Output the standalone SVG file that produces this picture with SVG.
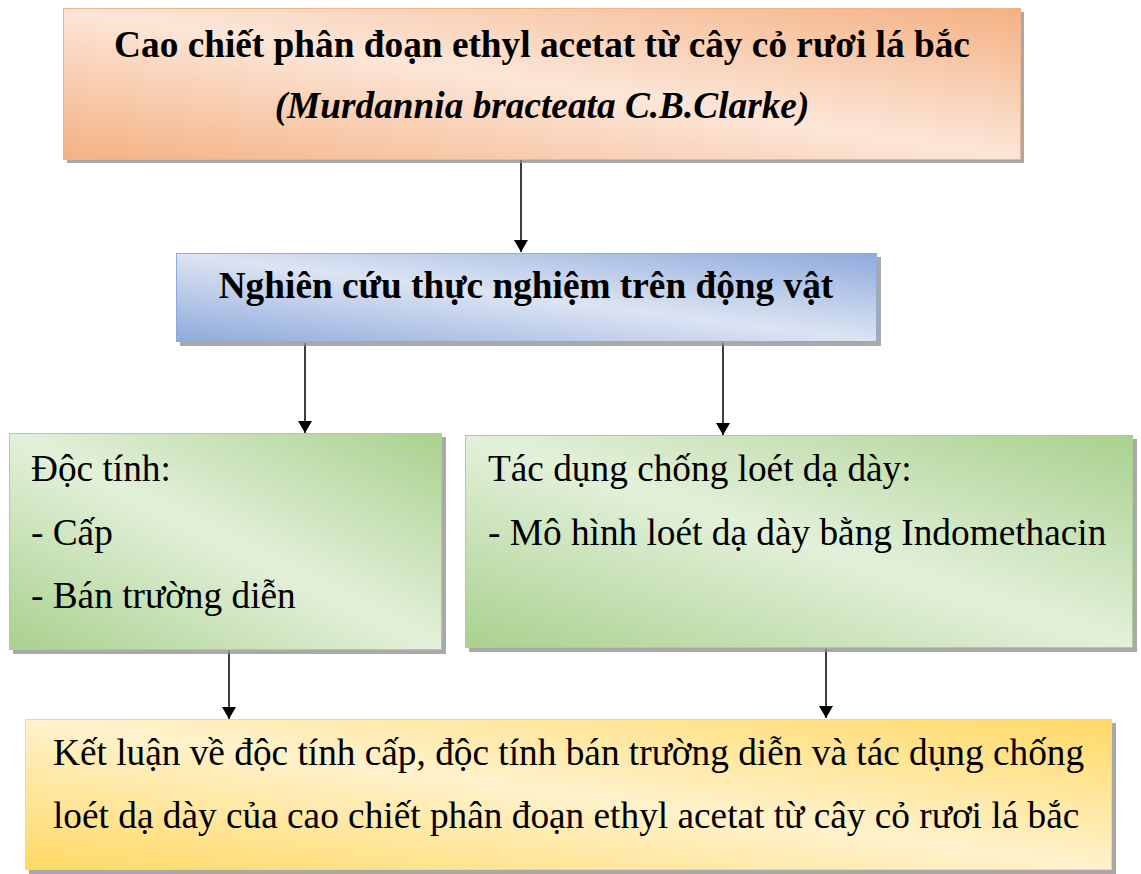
<svg xmlns="http://www.w3.org/2000/svg" width="1141" height="874" viewBox="0 0 1141 874">
<defs>
<linearGradient id="gO" x1="1" y1="0" x2="0" y2="1"><stop offset="0" stop-color="#F4B183"/><stop offset="0.5" stop-color="#FCE6D8"/><stop offset="1" stop-color="#F4B183"/></linearGradient>
<linearGradient id="gB" x1="1" y1="0" x2="0" y2="1"><stop offset="0" stop-color="#8FAADC"/><stop offset="0.5" stop-color="#DCE4F3"/><stop offset="1" stop-color="#8FAADC"/></linearGradient>
<linearGradient id="gG" x1="1" y1="0" x2="0" y2="1"><stop offset="0" stop-color="#A9D18E"/><stop offset="0.5" stop-color="#E3F0DA"/><stop offset="1" stop-color="#A9D18E"/></linearGradient>
<linearGradient id="gY" x1="1" y1="0" x2="0" y2="1"><stop offset="0" stop-color="#FFD966"/><stop offset="0.5" stop-color="#FFF2CC"/><stop offset="1" stop-color="#FFD966"/></linearGradient>
<marker id="arr" markerWidth="12" markerHeight="14" refX="12" refY="7" orient="auto" markerUnits="userSpaceOnUse"><path d="M0,0 L12,7 L0,14 Z" fill="#000"/></marker>
<style>
.sh{fill:#8c8c8c;opacity:0.75}
.t{font-family:"Liberation Serif","Times New Roman",serif;font-size:37.3px;fill:#000}
.b{font-weight:bold}
.c{stroke:#000;stroke-width:1.5;fill:none;marker-end:url(#arr)}
</style>
</defs>
<rect width="1141" height="874" fill="#fff"/>
<g id="connectors">
<line class="c" x1="521" y1="160" x2="521" y2="252"/>
<line class="c" x1="305" y1="343" x2="305" y2="433"/>
<line class="c" x1="723" y1="343" x2="723" y2="435"/>
<line class="c" x1="229" y1="651" x2="229" y2="719"/>
<line class="c" x1="826" y1="649" x2="826" y2="718"/>
</g>
<g id="n1">
<rect class="sh" x="67" y="12" width="957" height="151"/>
<rect x="63.5" y="8.5" width="957" height="151" fill="url(#gO)" stroke="#F4B183" stroke-width="1"/>
<text class="t b" x="542" y="57" text-anchor="middle">Cao chiết phân đoạn ethyl acetat từ cây cỏ rươi lá bắc</text>
<text class="t b" x="542" y="118" text-anchor="middle" font-style="italic">(Murdannia bracteata C.B.Clarke)</text>
</g>
<g id="n2">
<rect class="sh" x="180" y="257" width="701" height="89"/>
<rect x="176.5" y="253.5" width="700" height="88" fill="url(#gB)" stroke="#8FAADC" stroke-width="1"/>
<text class="t b" x="526" y="298" text-anchor="middle">Nghiên cứu thực nghiệm trên động vật</text>
</g>
<g id="n3">
<rect class="sh" x="13" y="437" width="433" height="217"/>
<rect x="9.5" y="433.5" width="432" height="216" fill="url(#gG)" stroke="#A9D18E" stroke-width="1"/>
<text class="t" x="31" y="481">Độc tính:</text>
<text class="t" x="31" y="545">- Cấp</text>
<text class="t" x="31" y="608">- Bán trường diễn</text>
</g>
<g id="n4">
<rect class="sh" x="469" y="439" width="668" height="213"/>
<rect x="465.5" y="435.5" width="667" height="212" fill="url(#gG)" stroke="#A9D18E" stroke-width="1"/>
<text class="t" x="488" y="481">Tác dụng chống loét dạ dày:</text>
<text class="t" x="488" y="545">- Mô hình loét dạ dày bằng Indomethacin</text>
</g>
<g id="n5">
<rect class="sh" x="29" y="723" width="1087" height="151"/>
<rect x="25.5" y="719.5" width="1086" height="150" fill="url(#gY)" stroke="#FFD966" stroke-width="1"/>
<text class="t" x="53" y="765">Kết luận về độc tính cấp, độc tính bán trường diễn và tác dụng chống</text>
<text class="t" x="53" y="828">loét dạ dày của cao chiết phân đoạn ethyl acetat từ cây cỏ rươi lá bắc</text>
</g>
</svg>
